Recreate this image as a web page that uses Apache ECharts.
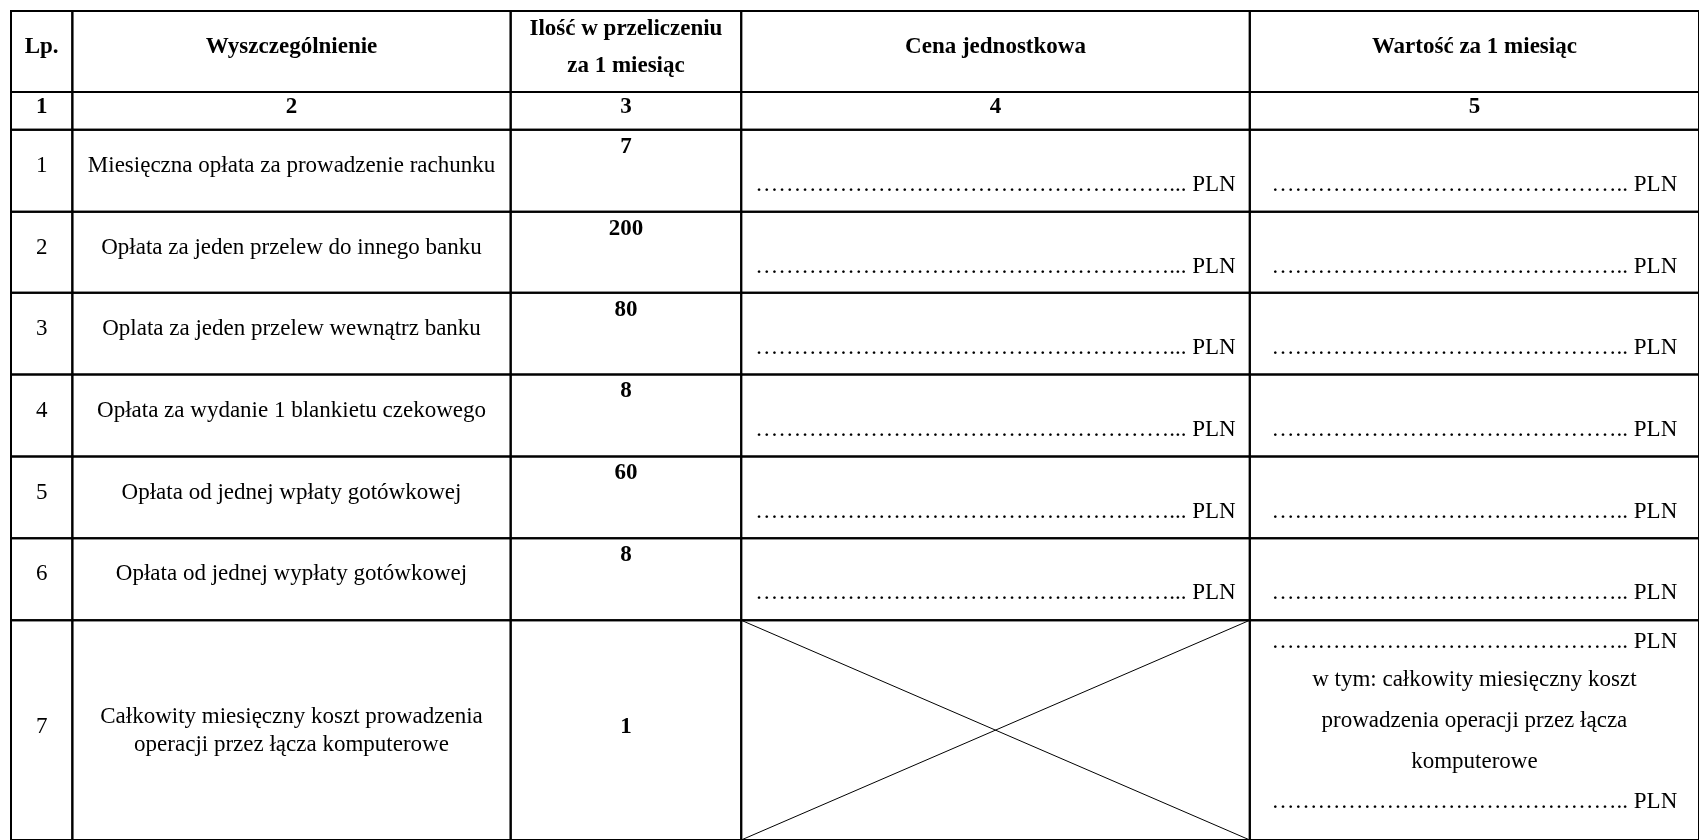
<!DOCTYPE html>
<html><head><meta charset="utf-8">
<script src="https://cdn.jsdelivr.net/npm/echarts@6/dist/echarts.min.js"></script>
<style>html,body{margin:0;padding:0;background:#fff;overflow:hidden}#c{width:1699px;height:840px}</style>
</head><body><div id="c"></div>
<script>
// ---- table content ----
const headers = ['Lp.', 'Wyszczególnienie', 'Ilość w przeliczeniu\nza 1 miesiąc', 'Cena jednostkowa', 'Wartość za 1 miesiąc'];
const colNumbers = ['1', '2', '3', '4', '5'];
const lpNumbers = ['1', '2', '3', '4', '5', '6', '7'];
const items = [
  'Miesięczna opłata za prowadzenie rachunku',
  'Opłata za jeden przelew do innego banku',
  'Oplata za jeden przelew wewnątrz banku',
  'Opłata za wydanie 1 blankietu czekowego',
  'Opłata od jednej wpłaty gotówkowej',
  'Opłata od jednej wypłaty gotówkowej',
  'Całkowity miesięczny koszt prowadzenia\noperacji przez łącza komputerowe'
];
const quantities = [7, 200, 80, 8, 60, 8, 1];
const priceBlank = '\u2026'.repeat(18) + '... PLN';
const valueBlank = '\u2026'.repeat(15) + '.. PLN';
const totalNote = ['w tym: całkowity miesięczny koszt', 'prowadzenia operacji przez łącza', 'komputerowe'];

// ---- layout (axis units) ----
const colEdges = [0, 62, 505, 738, 1252, 1706];
const rowEdges = [0, 81, 119, 201, 282, 364, 446, 528, 610, 830];

const FONT = '"Liberation Serif","Times New Roman",serif';
const FS = 23;

const cells = [];
for (let r = 0; r < rowEdges.length - 1; r++)
  for (let c = 0; c < colEdges.length - 1; c++) cells.push([c, r]);

function t(x, y, text, bold, align) {
  return { type: 'text', style: { x: x, y: y, text: text, fill: '#000',
    font: (bold ? 'bold ' : '') + FS + 'px ' + FONT, align: align || 'center', verticalAlign: 'middle' } };
}

function renderItem(params, api) {
  const c = api.value(0), r = api.value(1);
  const p0 = api.coord([colEdges[c], rowEdges[r]]);
  const p1 = api.coord([colEdges[c + 1], rowEdges[r + 1]]);
  const x0 = p0[0], y0 = p0[1], x1 = p1[0], y1 = p1[1];
  const cx = (x0 + x1) / 2;
  const ch = [{ type: 'rect', shape: { x: x0, y: y0, width: x1 - x0, height: y1 - y0 },
    style: { fill: null, stroke: '#000', lineWidth: 2 } }];
  if (r === 0) {
    if (c === 2) {
      const ls = headers[2].split('\n');
      ch.push(t(cx, y0 + 18, ls[0], true));
      ch.push(t(cx, y0 + 55, ls[1], true));
    } else ch.push(t(cx, y0 + 36, headers[c], true));
  } else if (r === 1) {
    ch.push(t(cx, y0 + 15, colNumbers[c], true));
  } else if (r < 8) {
    const i = r - 2;
    if (c === 0) ch.push(t(cx, y0 + 36, lpNumbers[i], false));
    if (c === 1) ch.push(t(cx, y0 + 36, items[i], false));
    if (c === 2) ch.push(t(cx, y0 + 17, String(quantities[i]), true));
    if (c === 3) ch.push(t(cx, y0 + 55, priceBlank, false));
    if (c === 4) ch.push(t(cx, y0 + 55, valueBlank, false));
  } else {
    const i = 6;
    if (c === 0) ch.push(t(cx, y0 + 107, lpNumbers[i], false));
    if (c === 1) {
      const ls = items[i].split('\n');
      ch.push(t(cx, y0 + 97, ls[0], false));
      ch.push(t(cx, y0 + 125, ls[1], false));
    }
    if (c === 2) ch.push(t(cx, y0 + 107, String(quantities[i]), true));
    if (c === 3) {
      ch.push({ type: 'line', shape: { x1: x0, y1: y0, x2: x1, y2: y1 }, style: { stroke: '#000', lineWidth: 1 } });
      ch.push({ type: 'line', shape: { x1: x0, y1: y1, x2: x1, y2: y0 }, style: { stroke: '#000', lineWidth: 1 } });
    }
    if (c === 4) {
      ch.push(t(cx, y0 + 22, valueBlank, false));
      ch.push(t(cx, y0 + 60, totalNote[0], false));
      ch.push(t(cx, y0 + 101, totalNote[1], false));
      ch.push(t(cx, y0 + 142, totalNote[2], false));
      ch.push(t(cx, y0 + 182, valueBlank, false));
    }
  }
  return { type: 'group', children: ch };
}

const chart = echarts.init(document.getElementById('c'), null, { renderer: 'canvas' });
chart.setOption({
  animation: false,
  grid: { left: 11, top: 11, width: 1706, height: 830 },
  xAxis: { type: 'value', min: 0, max: 1706, show: false },
  yAxis: { type: 'value', min: 0, max: 830, inverse: true, show: false },
  series: [{ type: 'custom', coordinateSystem: 'cartesian2d', clip: false,
    renderItem: renderItem, data: cells }]
});
</script></body></html>
